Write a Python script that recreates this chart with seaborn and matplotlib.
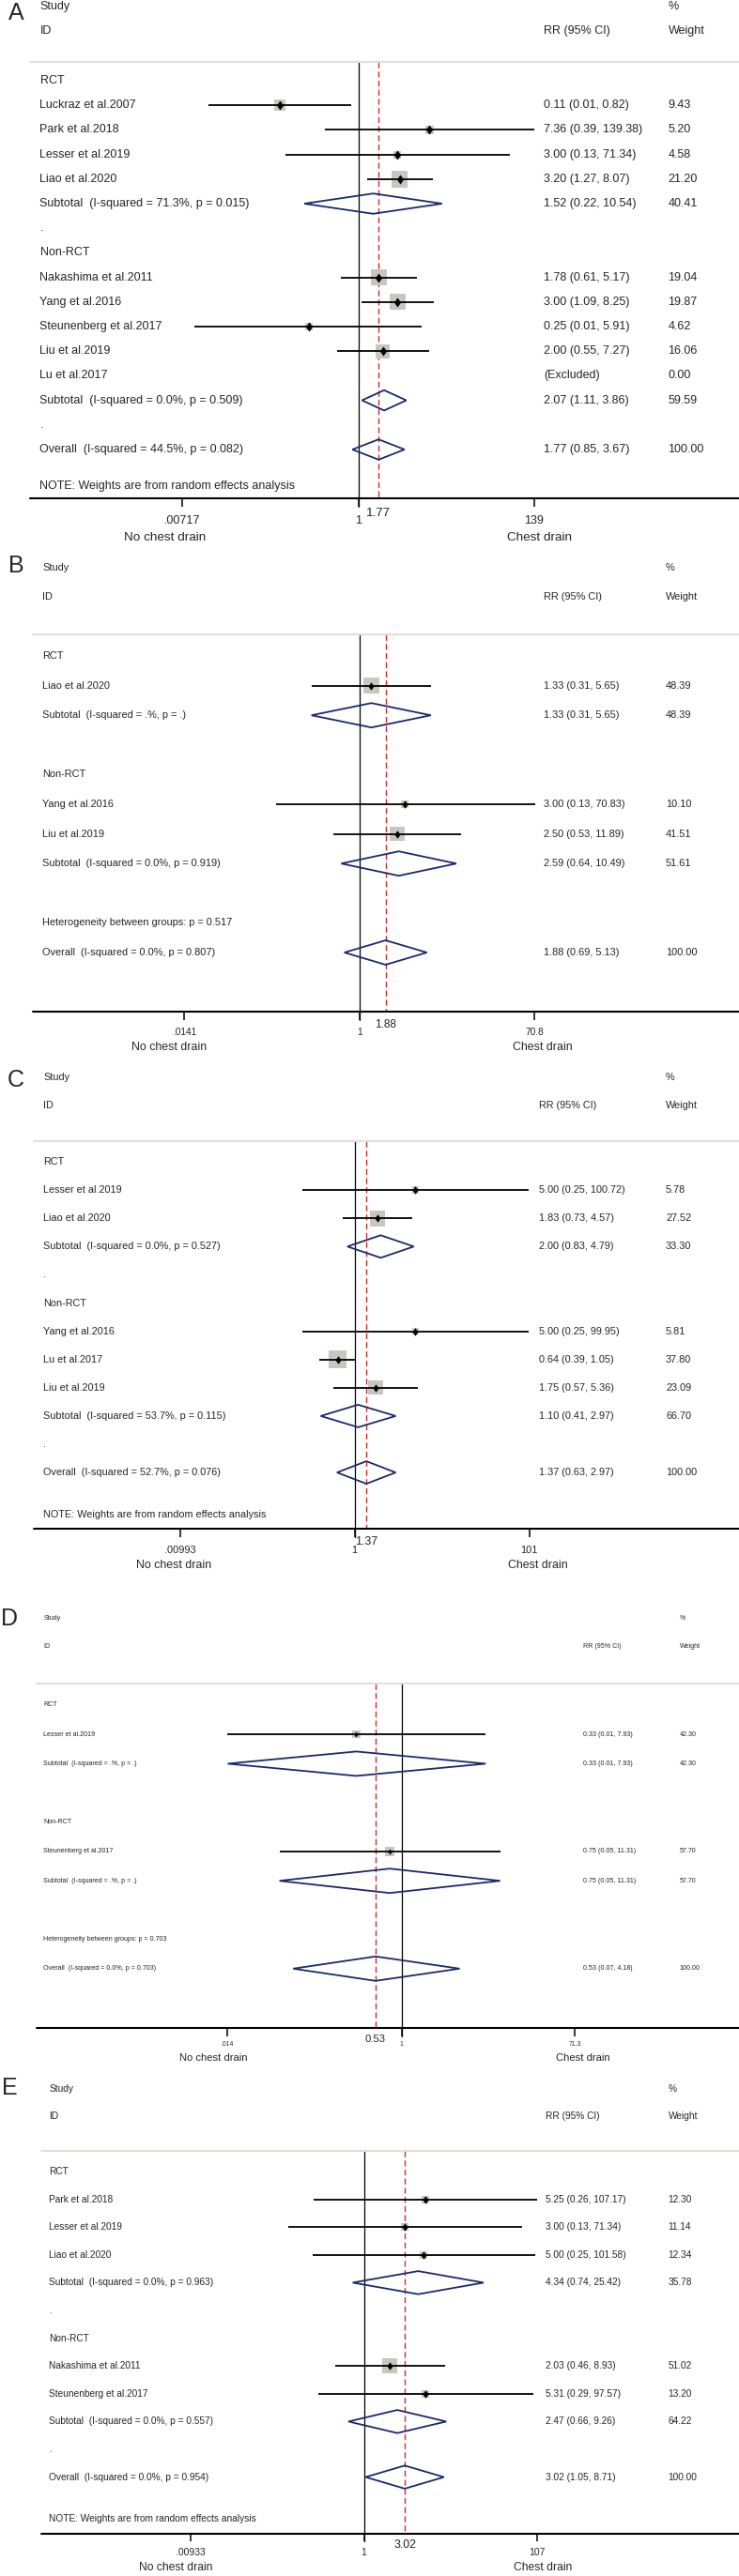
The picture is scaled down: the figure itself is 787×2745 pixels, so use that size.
import numpy as np
import pandas as pd
import matplotlib
matplotlib.use("Agg")
import matplotlib.pyplot as plt
from matplotlib.patches import Polygon
import seaborn as sns

sns.set_theme(style="white")
plt.rcParams['font.family'] = ['Liberation Sans', 'DejaVu Sans']

W, H = 787, 2745
nan = np.nan

# === Panel A data ===
a_id = ["RCT", "Luckraz et al.2007", "Park et al.2018", "Lesser et al.2019", "Liao et al.2020",
        "Subtotal  (I-squared = 71.3%, p = 0.015)", ".", "Non-RCT", "Nakashima et al.2011",
        "Yang et al.2016", "Steunenberg et al.2017", "Liu et al.2019", "Lu et al.2017",
        "Subtotal  (I-squared = 0.0%, p = 0.509)", ".", "Overall  (I-squared = 44.5%, p = 0.082)"]
a_kind = ["grp", "std", "std", "std", "std", "sub", "txt", "grp", "std", "std", "std", "std", "std",
          "sub", "txt", "all"]
a_rr = [nan, 0.11, 7.36, 3.00, 3.20, 1.52, nan, nan, 1.78, 3.00, 0.25, 2.00, nan, 2.07, nan, 1.77]
a_lo = [nan, 0.0149, 0.39, 0.13, 1.27, 0.22, nan, nan, 0.61, 1.09, 0.01, 0.55, nan, 1.11, nan, 0.85]
a_hi = [nan, 0.82, 139.38, 71.34, 8.07, 10.54, nan, nan, 5.17, 8.25, 5.91, 7.27, nan, 3.86, nan, 3.67]
a_wt = [nan, 9.43, 5.20, 4.58, 21.20, 40.41, nan, nan, 19.04, 19.87, 4.62, 16.06, 0.00, 59.59, nan, 100.00]
a_ticks = [0.00717, 1, 139]
a_tick_labels = [".00717", "1", "139"]

# === Panel B data ===
b_id = ["RCT", "Liao et al.2020", "Subtotal  (I-squared = .%, p = .)", "", "Non-RCT",
        "Yang et al.2016", "Liu et al.2019", "Subtotal  (I-squared = 0.0%, p = 0.919)", "",
        "Heterogeneity between groups: p = 0.517", "Overall  (I-squared = 0.0%, p = 0.807)"]
b_kind = ["grp", "std", "sub", "gap", "grp", "std", "std", "sub", "gap", "txt", "all"]
b_rr = [nan, 1.33, 1.33, nan, nan, 3.00, 2.50, 2.59, nan, nan, 1.88]
b_lo = [nan, 0.31, 0.31, nan, nan, 0.13, 0.53, 0.64, nan, nan, 0.69]
b_hi = [nan, 5.65, 5.65, nan, nan, 70.83, 11.89, 10.49, nan, nan, 5.13]
b_wt = [nan, 48.39, 48.39, nan, nan, 10.10, 41.51, 51.61, nan, nan, 100.00]
b_ticks = [0.0141, 1, 70.8]
b_tick_labels = [".0141", "1", "70.8"]

# === Panel C data ===
c_id = ["RCT", "Lesser et al.2019", "Liao et al.2020", "Subtotal  (I-squared = 0.0%, p = 0.527)", ".",
        "Non-RCT", "Yang et al.2016", "Lu et al.2017", "Liu et al.2019",
        "Subtotal  (I-squared = 53.7%, p = 0.115)", ".", "Overall  (I-squared = 52.7%, p = 0.076)"]
c_kind = ["grp", "std", "std", "sub", "txt", "grp", "std", "std", "std", "sub", "txt", "all"]
c_rr = [nan, 5.00, 1.83, 2.00, nan, nan, 5.00, 0.64, 1.75, 1.10, nan, 1.37]
c_lo = [nan, 0.25, 0.73, 0.83, nan, nan, 0.25, 0.39, 0.57, 0.41, nan, 0.63]
c_hi = [nan, 100.72, 4.57, 4.79, nan, nan, 99.95, 1.05, 5.36, 2.97, nan, 2.97]
c_wt = [nan, 5.78, 27.52, 33.30, nan, nan, 5.81, 37.80, 23.09, 66.70, nan, 100.00]
c_ticks = [0.00993, 1, 101]
c_tick_labels = [".00993", "1", "101"]

# === Panel D data ===
d_id = ["RCT", "Lesser et al.2019", "Subtotal  (I-squared = .%, p = .)", "", "Non-RCT",
        "Steunenberg et al.2017", "Subtotal  (I-squared = .%, p = .)", "",
        "Heterogeneity between groups: p = 0.703", "Overall  (I-squared = 0.0%, p = 0.703)"]
d_kind = ["grp", "std", "sub", "gap", "grp", "std", "sub", "gap", "txt", "all"]
d_rr = [nan, 0.33, 0.33, nan, nan, 0.75, 0.75, nan, nan, 0.53]
d_lo = [nan, 0.014, 0.014, nan, nan, 0.05, 0.05, nan, nan, 0.07]
d_hi = [nan, 7.93, 7.93, nan, nan, 11.31, 11.31, nan, nan, 4.18]
d_wt = [nan, 42.30, 42.30, nan, nan, 57.70, 57.70, nan, nan, 100.00]
d_ticks = [0.014, 1, 71.3]
d_tick_labels = [".014", "1", "71.3"]

# === Panel E data ===
e_id = ["RCT", "Park et al.2018", "Lesser et al.2019", "Liao et al.2020",
        "Subtotal  (I-squared = 0.0%, p = 0.963)", ".", "Non-RCT", "Nakashima et al.2011",
        "Steunenberg et al.2017", "Subtotal  (I-squared = 0.0%, p = 0.557)", ".",
        "Overall  (I-squared = 0.0%, p = 0.954)"]
e_kind = ["grp", "std", "std", "std", "sub", "txt", "grp", "std", "std", "sub", "txt", "all"]
e_rr = [nan, 5.25, 3.00, 5.00, 4.34, nan, nan, 2.03, 5.31, 2.47, nan, 3.02]
e_lo = [nan, 0.26, 0.13, 0.25, 0.74, nan, nan, 0.46, 0.29, 0.66, nan, 1.05]
e_hi = [nan, 107.17, 71.34, 101.58, 25.42, nan, nan, 8.93, 97.57, 9.26, nan, 8.71]
e_wt = [nan, 12.30, 11.14, 12.34, 35.78, nan, nan, 51.02, 13.20, 64.22, nan, 100.00]
e_ticks = [0.00933, 1, 107]
e_tick_labels = [".00933", "1", "107"]

# === Colours ===
BOX = "#c9c6be"
NAVY = "#1c2a6b"
RED = "#cc2b2b"
SEP = "#e3dfd2"
POINT = [(0, 0.5), (0.36, 0), (0, -0.5), (-0.36, 0)]

# === Layout per panel (pixel positions) ===
lay_a = dict(top=0, bot=590, Lx=17, Ly=14, h1=7, h2=33, sep=66, lx=32, sx=42.5, rx=579, wx=711.5,
             row0=86, dy=26.2, x1=381.5, ppd=87.3, box=17.5, pt=10, dh=10.8, axis=531, tl=9,
             tly=555, ely=547, xly=573, nx=176, cx=574, fs=9.0, tfs=9.0, xfs=9.7, efs=9.6)
lay_b = dict(top=590, bot=1135, Lx=17, Ly=603, h1=605, h2=636, sep=676, lx=35, sx=45, rx=579, wx=709,
             row0=699, dy=31.6, x1=383, ppd=100.8, box=16.5, pt=8.5, dh=13, axis=1078, tl=9,
             tly=1100, ely=1092, xly=1116, nx=180, cx=578, fs=7.9, tfs=7.3, xfs=8.9, efs=8.5)
lay_c = dict(top=1135, bot=1700, Lx=17, Ly=1151, h1=1148, h2=1178, sep=1216, lx=36, sx=46, rx=574,
             wx=709, row0=1238, dy=30.1, x1=377.5, ppd=92.8, box=19.5, pt=8.5, dh=12, axis=1629,
             tl=9, tly=1652, ely=1643, xly=1668, nx=185, cx=572.5, fs=7.8, tfs=7.9, xfs=8.9, efs=8.9)
lay_d = dict(top=1700, bot=2210, Lx=10, Ly=1725, h1=1724, h2=1755, sep=1794, lx=39, sx=46.5, rx=621,
             wx=724, row0=1817, dy=31.2, x1=427.5, ppd=99.8, box=9.5, pt=6, dh=13, axis=2161, tl=9,
             tly=2179, ely=2173, xly=2193, nx=227.5, cx=621, fs=5.1, tfs=4.9, xfs=8.1, efs=8.1)
lay_e = dict(top=2210, bot=2745, Lx=10, Ly=2225, h1=2226, h2=2255, sep=2292, lx=44, sx=52.5, rx=581,
             wx=711.5, row0=2314, dy=29.6, x1=387.5, ppd=90.7, box=16, pt=8.5, dh=12.3, axis=2700,
             tl=8, tly=2720, ely=2712, xly=2736, nx=187.5, cx=578.5, fs=7.3, tfs=7.5, xfs=8.7, efs=8.9)


def px2x(px, lay):
    return 10 ** ((px - lay['x1']) / lay['ppd'])


def draw_panel(fig, letter, ids, kind, rr, lo, hi, wt, ticks, tick_labels, lay, note):
    top, bot = lay['top'], lay['bot']
    ax = fig.add_axes([0, 1 - bot / H, 1, (bot - top) / H])
    trans = ax.get_yaxis_transform()
    fs = lay['fs']

    df = pd.DataFrame({'id': ids, 'kind': kind, 'rr': rr, 'lo': lo, 'hi': hi, 'wt': wt})
    df['y'] = lay['row0'] + np.arange(len(df)) * lay['dy']

    # --- study boxes (area ~ weight) and point estimates ---
    std = df[(df['kind'] == 'std') & df['rr'].notna()]
    smax = (lay['box'] * 0.72) ** 2
    sns.scatterplot(data=std, x='rr', y='y', size='wt', sizes=(0, smax),
                    size_norm=(0, std['wt'].max()), marker='s', color=BOX, linewidth=0,
                    legend=False, ax=ax, zorder=2)
    ax.hlines(std['y'], std['lo'], std['hi'], color='black', lw=1.3, zorder=3)
    sns.scatterplot(data=std, x='rr', y='y', marker=POINT, s=(lay['pt'] * 0.72) ** 2,
                    color='black', linewidth=0, legend=False, ax=ax, zorder=4)

    # --- pooled diamonds ---
    pooled = df[df['kind'].isin(['sub', 'all'])]
    for _, r in pooled.iterrows():
        verts = [(r.lo, r.y), (r.rr, r.y - lay['dh']), (r.hi, r.y), (r.rr, r.y + lay['dh'])]
        ax.add_patch(Polygon(verts, closed=True, fill=False, edgecolor=NAVY, lw=1.3, zorder=3))

    est = df.loc[df['kind'] == 'all', 'rr'].iloc[0]

    # --- reference lines ---
    ax.plot([lay['lx'] / W, 1], [lay['sep']] * 2, transform=trans, color=SEP, lw=1.5, clip_on=False)
    ax.plot([1, 1], [lay['sep'], lay['axis'] + lay['tl']], color='black', lw=0.9, zorder=1)
    ax.plot([est, est], [lay['sep'], lay['axis']], color=RED, lw=1.0, ls=(0, (4.5, 2.5)), zorder=1)

    # --- x axis ---
    ax.plot([lay['lx'] / W, 1], [lay['axis']] * 2, transform=trans, color='black', lw=1.5,
            clip_on=False)
    ax.vlines(ticks, lay['axis'], lay['axis'] + lay['tl'], color='black', lw=1.1)
    for t, lab in zip(ticks, tick_labels):
        ax.text(t, lay['tly'], lab, ha='center', va='center', fontsize=lay['tfs'])
    ax.text(est, lay['ely'], f"{est:.2f}", ha='center', va='center', fontsize=lay['efs'])
    ax.text(lay['nx'] / W, lay['xly'], "No chest drain", transform=trans, ha='center',
            va='center', fontsize=lay['xfs'])
    ax.text(lay['cx'] / W, lay['xly'], "Chest drain", transform=trans, ha='center',
            va='center', fontsize=lay['xfs'])

    # --- header ---
    ax.text(lay['Lx'] / W, lay['Ly'], letter, transform=trans, ha='center', va='center',
            fontsize=18)
    ax.text(lay['sx'] / W, lay['h1'], "Study", transform=trans, va='center', fontsize=fs)
    ax.text(lay['wx'] / W, lay['h1'], "%", transform=trans, va='center', fontsize=fs)
    ax.text(lay['sx'] / W, lay['h2'], "ID", transform=trans, va='center', fontsize=fs)
    ax.text(lay['rx'] / W, lay['h2'], "RR (95% CI)", transform=trans, va='center', fontsize=fs)
    ax.text(lay['wx'] / W, lay['h2'], "Weight", transform=trans, va='center', fontsize=fs)

    # --- row texts ---
    for _, r in df.iterrows():
        ax.text(lay['sx'] / W, r.y, r.id, transform=trans, va='center', fontsize=fs)
        if r.kind in ('std', 'sub', 'all'):
            if np.isnan(r.rr):
                ci = "(Excluded)"
            else:
                ci = f"{r.rr:.2f} ({r.lo:.2f}, {r.hi:.2f})"
            ax.text(lay['rx'] / W, r.y, ci, transform=trans, va='center', fontsize=fs)
            ax.text(lay['wx'] / W, r.y, f"{r.wt:.2f}", transform=trans, va='center', fontsize=fs)
    if note:
        ax.text(lay['sx'] / W, lay['row0'] + (len(df) + 0.5) * lay['dy'],
                "NOTE: Weights are from random effects analysis", transform=trans,
                va='center', fontsize=fs)

    ax.set_xscale('log')
    ax.set_xlim(px2x(0, lay), px2x(W, lay))
    ax.set_ylim(bot, top)
    ax.axis('off')
    return ax


fig = plt.figure(figsize=(W / 100, H / 100), dpi=100, facecolor='white')
draw_panel(fig, "A", a_id, a_kind, a_rr, a_lo, a_hi, a_wt, a_ticks, a_tick_labels, lay_a, True)
draw_panel(fig, "B", b_id, b_kind, b_rr, b_lo, b_hi, b_wt, b_ticks, b_tick_labels, lay_b, False)
draw_panel(fig, "C", c_id, c_kind, c_rr, c_lo, c_hi, c_wt, c_ticks, c_tick_labels, lay_c, True)
draw_panel(fig, "D", d_id, d_kind, d_rr, d_lo, d_hi, d_wt, d_ticks, d_tick_labels, lay_d, False)
draw_panel(fig, "E", e_id, e_kind, e_rr, e_lo, e_hi, e_wt, e_ticks, e_tick_labels, lay_e, True)

fig.savefig("out.png", dpi=100, facecolor='white')
